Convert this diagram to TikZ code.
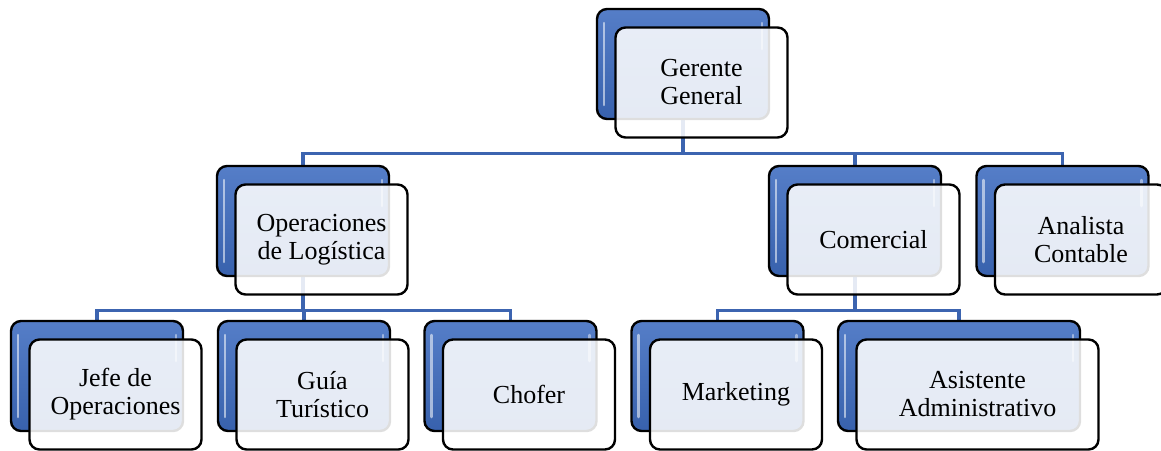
\documentclass[tikz,border=0pt]{standalone}
\usepackage{fontspec}
\setmainfont{Liberation Serif}
\newfontfamily\orgfont{Liberation Serif}
\pgfdeclarelayer{background}
\pgfsetlayers{background,main}
\definecolor{orgblue}{RGB}{62,108,192}
\definecolor{orgline}{RGB}{60,100,176}
\tikzset{
  backbox/.style={draw=black, line width=2.4pt, rounded corners=10pt,
    minimum width=172pt, minimum height=110pt, inner sep=0pt,
    top color=orgblue!88!white, middle color=orgblue, bottom color=orgblue!90!black,
    path picture={\draw[white, opacity=0.55, line width=2.5pt, line cap=round]
      ([shift={(7pt,-14pt)}]path picture bounding box.north west) --
      ([shift={(7pt,14pt)}]path picture bounding box.south west);
      \draw[white, opacity=0.45, line width=2.5pt, line cap=round]
      ([shift={(-7pt,-14pt)}]path picture bounding box.north east) --
      ([shift={(-7pt,-40pt)}]path picture bounding box.north east);}},
  frontbox/.style={draw=black, line width=2.4pt, rounded corners=10pt,
    minimum width=172pt, minimum height=110pt, inner sep=0pt,
    fill=white, fill opacity=0.87, text opacity=1, align=center,
    font=\orgfont\fontsize{26}{28}\selectfont},
  link/.style={orgline, line width=3.2pt}
}
\begin{document}
\begin{tikzpicture}[x=1pt, y=-1pt]
  \useasboundingbox (0,0) rectangle (1161,450);
  % boxes: back (blue) and front (light) pairs
  \foreach \n/\x/\y/\w/\t in {ger/683/64/172/{Gerente\\General},
      ope/303/221/172/{Operaciones\\de Logística},
      com/855/221/172/{Comercial},
      ana/1062.5/221/172/{Analista\\Contable},
      jef/97/376/172/{Jefe de\\Operaciones},
      gui/304/376/172/{Guía\\Turístico},
      cho/510.5/376/172/{Chofer},
      mar/717.5/376/172/{Marketing},
      asi/959/376/242/{Asistente\\Administrativo}}{
    \node[backbox, minimum width=\w pt] (\n B) at (\x,\y) {};
    \node[frontbox, minimum width=\w pt] (\n) at ([shift={(18.5,18.5)}]\n B.center) {\t};
  }
  \begin{pgfonlayer}{background}
    \draw[link] (gerB.south) -- ++(0,33) coordinate (j1);
    \draw[link] (j1) -| (opeB.north) (j1) -| (comB.north) (j1) -| (anaB.north);
    \draw[link] (opeB.south) -- ++(0,33) coordinate (j2);
    \draw[link] (j2) -| (jefB.north) (j2) -| (guiB.north) (j2) -| (choB.north);
    \draw[link] (comB.south) -- ++(0,33) coordinate (j3);
    \draw[link] (j3) -| (marB.north) (j3) -| (asiB.north);
  \end{pgfonlayer}
\end{tikzpicture}
\end{document}
